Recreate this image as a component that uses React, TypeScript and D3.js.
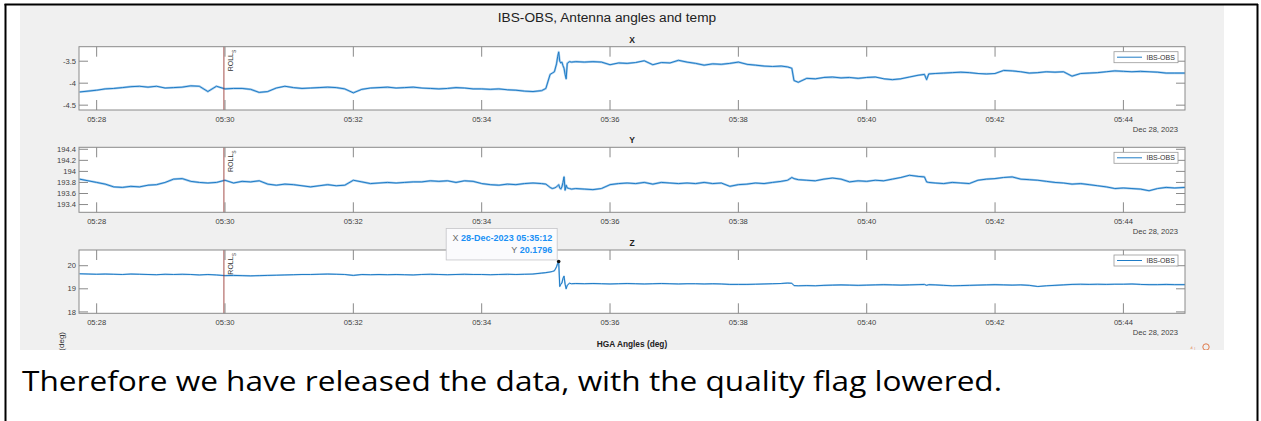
import React from "react";
import * as d3 from "d3";

// seconds after 05:27:00 on 28-Dec-2023
const sampleSeconds = [
  44, 52, 60, 68, 76, 84, 92, 100, 108, 116, 124, 132, 140, 148, 156, 164, 172, 180, 188, 196,
  204, 212, 220, 228, 236, 244, 252, 260, 268, 276, 284, 292, 300, 308, 316, 324, 332, 340, 348, 356,
  364, 372, 380, 388, 396, 404, 412, 420, 428, 436, 444, 452, 460, 468, 476,
  480, 484, 486, 488, 490, 491, 492, 493, 494, 495, 496, 497, 498, 499, 500, 502, 504, 508,
  516, 524, 532, 540, 548, 556, 564, 572, 580, 588, 596, 604, 612, 620, 628, 636, 644, 652, 660, 668,
  676, 684, 692, 700,
  706, 710, 712, 716,
  724, 732, 740, 748, 756, 764, 772, 780, 788, 796, 804, 812, 820, 828,
  834, 836, 838,
  844, 852, 860, 868, 876, 884, 892, 900, 908, 916, 924, 932, 940, 948, 956, 964, 972, 980, 988, 996,
  1004, 1012, 1020, 1028, 1036, 1044, 1052, 1060, 1068, 1078,
];

const xAngle = [
  -4.2, -4.18, -4.16, -4.13, -4.12, -4.1, -4.08, -4.07, -4.09, -4.07, -4.11, -4.1, -4.09, -4.06, -4.07, -4.19, -4.07, -4.13, -4.12, -4.12,
  -4.14, -4.21, -4.19, -4.11, -4.07, -4.1, -4.12, -4.11, -4.1, -4.09, -4.1, -4.13, -4.22, -4.14, -4.11, -4.1, -4.09, -4.11, -4.1, -4.09,
  -4.11, -4.12, -4.13, -4.12, -4.1, -4.11, -4.13, -4.13, -4.14, -4.13, -4.15, -4.16, -4.18, -4.19, -4.17,
  -4.12, -3.8, -3.77, -3.74, -3.56, -3.4, -3.29, -3.5, -3.54, -3.52, -3.6, -3.66, -3.8, -3.9, -3.55, -3.51, -3.52, -3.51,
  -3.52, -3.51, -3.52, -3.58, -3.54, -3.55, -3.53, -3.49, -3.58, -3.53, -3.54, -3.48, -3.52, -3.55, -3.59, -3.56, -3.57, -3.55,
  -3.52, -3.57, -3.59, -3.61, -3.62, -3.61,
  -3.63, -3.66, -3.94, -3.98,
  -3.89, -3.9, -3.87, -3.86, -3.88, -3.87, -3.89, -3.87, -3.86, -3.9, -3.92, -3.9, -3.86, -3.82,
  -3.8, -3.92, -3.79,
  -3.78, -3.77, -3.76, -3.75, -3.76, -3.78, -3.79, -3.78, -3.71, -3.72, -3.74, -3.77, -3.76, -3.74, -3.75, -3.74, -3.84, -3.78, -3.77, -3.76,
  -3.74, -3.72, -3.73, -3.74, -3.73, -3.74, -3.75, -3.77, -3.77, -3.77,
];

const yAngle = [
  193.86, 193.83, 193.8, 193.77, 193.72, 193.71, 193.73, 193.72, 193.75, 193.76, 193.8, 193.86, 193.87, 193.82, 193.8, 193.79, 193.8, 193.84, 193.79, 193.82,
  193.81, 193.83, 193.77, 193.75, 193.77, 193.76, 193.74, 193.72, 193.74, 193.76, 193.74, 193.75, 193.84, 193.81, 193.78, 193.79, 193.8, 193.79, 193.8, 193.81,
  193.81, 193.83, 193.82, 193.83, 193.8, 193.83, 193.82, 193.78, 193.76, 193.75, 193.77, 193.76, 193.78, 193.79, 193.78,
  193.77, 193.71, 193.69, 193.7, 193.72, 193.74, 193.76, 193.7, 193.68, 193.72, 193.8, 193.9, 193.66, 193.75, 193.7, 193.69, 193.68, 193.69,
  193.68, 193.67, 193.69, 193.76, 193.78, 193.79, 193.78, 193.8, 193.77, 193.8, 193.79, 193.78, 193.79, 193.78, 193.8, 193.78, 193.79, 193.73,
  193.76, 193.77, 193.79, 193.78, 193.8, 193.82,
  193.84, 193.89, 193.87, 193.85,
  193.84, 193.83, 193.86, 193.88, 193.86, 193.81, 193.83, 193.82, 193.84, 193.83, 193.86, 193.89, 193.93, 193.91,
  193.9, 193.81, 193.8,
  193.79, 193.78, 193.8, 193.79, 193.78, 193.84, 193.86, 193.87, 193.89, 193.9, 193.86, 193.85, 193.84, 193.82, 193.8, 193.79, 193.77, 193.78, 193.76, 193.74,
  193.72, 193.69, 193.7, 193.69, 193.68, 193.65, 193.69, 193.71, 193.7, 193.71,
];

const zAngle = [
  19.65, 19.64, 19.63, 19.64, 19.63, 19.62, 19.64, 19.63, 19.62, 19.61, 19.63, 19.62, 19.63, 19.62, 19.6, 19.62, 19.6, 19.57, 19.58, 19.57,
  19.56, 19.57, 19.58, 19.59, 19.6, 19.61, 19.62, 19.62, 19.63, 19.64, 19.63, 19.62, 19.58, 19.62, 19.61, 19.62, 19.61, 19.62, 19.61, 19.6,
  19.62, 19.63, 19.62, 19.61, 19.62, 19.63, 19.62, 19.62, 19.61, 19.62, 19.63, 19.62, 19.63, 19.64, 19.68,
  19.7, 19.73, 19.75, 19.78, 19.95, 20.1, 20.1796, 19.1, 19.2, 19.25, 19.45, 19.55, 19.2, 19.0, 19.15, 19.24, 19.22, 19.23,
  19.22, 19.23, 19.22, 19.21, 19.22, 19.23, 19.22, 19.21, 19.22, 19.23, 19.22, 19.21, 19.22, 19.22, 19.21, 19.22, 19.21, 19.19,
  19.19, 19.19, 19.2, 19.21, 19.22, 19.23,
  19.25, 19.24, 19.14, 19.13,
  19.14, 19.13, 19.15, 19.16, 19.17, 19.16, 19.15, 19.16, 19.17, 19.18, 19.17, 19.16, 19.17, 19.18,
  19.19, 19.15, 19.18,
  19.17, 19.15, 19.13, 19.14, 19.15, 19.16, 19.17, 19.18, 19.17, 19.16, 19.17, 19.15, 19.1, 19.13, 19.15, 19.17, 19.19, 19.2, 19.19, 19.2,
  19.19, 19.2, 19.2, 19.21, 19.19, 19.18, 19.18, 19.19, 19.18, 19.18,
];

const xTicks = [-4.5, -4, -3.5];
const yTicks = [193.4, 193.6, 193.8, 194, 194.2, 194.4];
const zTicks = [18, 19, 20];
const panelTitles = ["X", "Y", "Z"];
const seriesName = "IBS-OBS";
const rollSeconds = 179;
const tipSeconds = 492;
const tipValue = 20.1796;
const tipTimeLabel = "28-Dec-2023 05:35:12";
const dateLabel = "Dec 28, 2023";

const BASE = new Date(2023, 11, 28, 5, 27, 0).getTime();
const toDate = (s: number) => new Date(BASE + s * 1000);

const FONT = "'Liberation Sans', Arial, Helvetica, sans-serif";
const LINE = "#1f7cc6";
const AX = "#8a8a8a";
const TXT = "#404040";

const L = 79;
const R = 1185;

const xScale = d3.scaleTime().domain([toDate(43.5), toDate(1077.6)]).range([L, R]);
const timeTicks = xScale.ticks(d3.timeMinute.every(2) as any);
const fmt = d3.timeFormat("%H:%M");

const panels = [
  { title: panelTitles[0], values: xAngle, domain: [-4.61, -3.17], ticks: xTicks, top: 46.7, bottom: 110 },
  { title: panelTitles[1], values: yAngle, domain: [193.26, 194.436], ticks: yTicks, top: 147.3, bottom: 212.3 },
  { title: panelTitles[2], values: zAngle, domain: [17.94, 20.68], ticks: zTicks, top: 250, bottom: 313.3 },
];

function Panel({ p, idx }: { p: any; idx: number }) {
  const y = d3.scaleLinear().domain(p.domain).range([p.bottom, p.top]);
  const line = d3
    .line<number>()
    .x((_, i) => xScale(toDate(sampleSeconds[i])))
    .y((d) => y(d));
  const clipId = `clip${idx}`;
  const rx = xScale(toDate(rollSeconds));
  const tl = 10;
  const d = line(p.values) || "";
  return (
    <g>
      <clipPath id={clipId}>
        <rect x={L} y={p.top} width={R - L} height={p.bottom - p.top} />
      </clipPath>
      <rect x={L} y={p.top} width={R - L} height={p.bottom - p.top} fill="#fff" />
      <g clipPath={`url(#${clipId})`}>
        <path d={d} fill="none" stroke="#8cbde6" strokeWidth={idx === 2 ? 1.6 : 2.2} strokeLinejoin="round" opacity={0.8} />
        <path d={d} fill="none" stroke={LINE} strokeWidth={1} strokeLinejoin="round" />
      </g>
      <line x1={rx} x2={rx} y1={p.top} y2={p.bottom} stroke="#9a3a36" strokeWidth={0.9} />
      <text
        transform={`translate(${rx + 9.5},${p.top + 3}) rotate(-90)`}
        textAnchor="end"
        fontFamily={FONT}
        fontSize={7}
        fill="#333"
      >
        ROLL<tspan fontSize={5} dy={2.5}>S</tspan>
      </text>
      {timeTicks.map((t, i) => {
        const x = xScale(t);
        return (
          <g key={i}>
            <line x1={x} x2={x} y1={p.top} y2={p.top + tl} stroke={AX} strokeWidth={1} />
            <line x1={x} x2={x} y1={p.bottom} y2={p.bottom - tl} stroke={AX} strokeWidth={1} />
            <text x={x} y={p.bottom + 11.5} textAnchor="middle" fontFamily={FONT} fontSize={7.6} fill={TXT}>
              {fmt(t)}
            </text>
          </g>
        );
      })}
      {p.ticks.map((v: number, i: number) => {
        const yy = y(v);
        return (
          <g key={i}>
            <line x1={L} x2={L + 9} y1={yy} y2={yy} stroke={AX} strokeWidth={1} />
            <line x1={R} x2={R - 9} y1={yy} y2={yy} stroke={AX} strokeWidth={1} />
            <text x={L - 3} y={yy + 2.6} textAnchor="end" fontFamily={FONT} fontSize={7.6} fill={TXT}>
              {String(v)}
            </text>
          </g>
        );
      })}
      <rect x={L} y={p.top} width={R - L} height={p.bottom - p.top} fill="none" stroke={AX} strokeWidth={1} />
      <text x={(L + R) / 2} y={p.top - 4} textAnchor="middle" fontFamily={FONT} fontSize={8.5} fontWeight="bold" fill="#222">
        {p.title}
      </text>
      <text x={1178} y={p.bottom + 21.5} textAnchor="end" fontFamily={FONT} fontSize={7.6} fill={TXT}>
        {dateLabel}
      </text>
      <g>
        <rect x={1114} y={p.top + 5} width={64} height={11} fill="#fff" stroke="#9a9a9a" strokeWidth={0.8} />
        <line x1={1117} x2={1142} y1={p.top + 10.5} y2={p.top + 10.5} stroke={LINE} strokeWidth={1} />
        <text x={1146.5} y={p.top + 13} fontFamily={FONT} fontSize={7} fill="#333">
          {seriesName}
        </text>
      </g>
    </g>
  );
}

export default function App() {
  const zp = panels[2];
  const zy = d3.scaleLinear().domain(zp.domain).range([zp.bottom, zp.top]);
  const tx = xScale(toDate(tipSeconds));
  const ty = zy(tipValue);
  const bx1 = tx - 1.5;
  const by1 = ty - 1.6;
  return (
    <div style={{ position: "absolute", left: 0, top: 0 }}>
      <svg width={1261} height={421} style={{ display: "block" }}>
        <rect x={0} y={0} width={1261} height={421} fill="#fff" />
        <clipPath id="figclip">
          <rect x={20} y={5} width={1204} height={345} />
        </clipPath>
        <rect x={20} y={5} width={1204} height={345} fill="#f0f0f0" />
        <text x={607} y={21.8} textAnchor="middle" fontFamily={FONT} fontSize={13.7} fill="#222">
          IBS-OBS, Antenna angles and temp
        </text>
        {panels.map((p, i) => (
          <Panel key={i} p={p} idx={i} />
        ))}
        <g>
          <rect x={bx1 - 111} y={by1 - 31.5} width={111} height={31.5} fill="#fbfbfd" stroke="#c4c4c8" strokeWidth={0.8} />
          <text x={bx1 - 5} y={by1 - 19} textAnchor="end" fontFamily={FONT} fontSize={9} fill="#6a6a6a">
            X <tspan fill="#1a90f5" fontWeight="bold">{tipTimeLabel}</tspan>
          </text>
          <text x={bx1 - 5} y={by1 - 7.3} textAnchor="end" fontFamily={FONT} fontSize={9} fill="#6a6a6a">
            Y <tspan fill="#1a90f5" fontWeight="bold">{String(tipValue)}</tspan>
          </text>
          <circle cx={tx} cy={ty} r={1.8} fill="#111" />
        </g>
        <text x={(L + R) / 2} y={347} textAnchor="middle" fontFamily={FONT} fontSize={8.3} fontWeight="bold" fill="#222">
          HGA Angles (deg)
        </text>
        <g clipPath="url(#figclip)">
          <text transform="translate(64,332) rotate(-90)" textAnchor="end" fontFamily={FONT} fontSize={8} fill="#333">
            Temp (deg)
          </text>
          <text x={1190} y={351} fontFamily={FONT} fontSize={7} fill="#e07a4a">
            ⁴↓
          </text>
          <circle cx={1206} cy={347} r={3.2} fill="none" stroke="#e07a4a" strokeWidth={1} />
        </g>
        <line x1={5.5} x2={5.5} y1={4} y2={421} stroke="#000" strokeWidth={2} />
        <line x1={4.5} x2={1258} y1={4.5} y2={4.5} stroke="#000" strokeWidth={2} />
        <line x1={1257.5} x2={1257.5} y1={4} y2={421} stroke="#000" strokeWidth={2} />
        <text
          x={22}
          y={391}
          fontFamily="'Open Sans', 'Noto Sans', sans-serif"
          fontSize={28}
          fill="#000"
          textLength={980}
          lengthAdjust="spacingAndGlyphs"
        >
          Therefore we have released the data, with the quality flag lowered.
        </text>
      </svg>
    </div>
  );
}
